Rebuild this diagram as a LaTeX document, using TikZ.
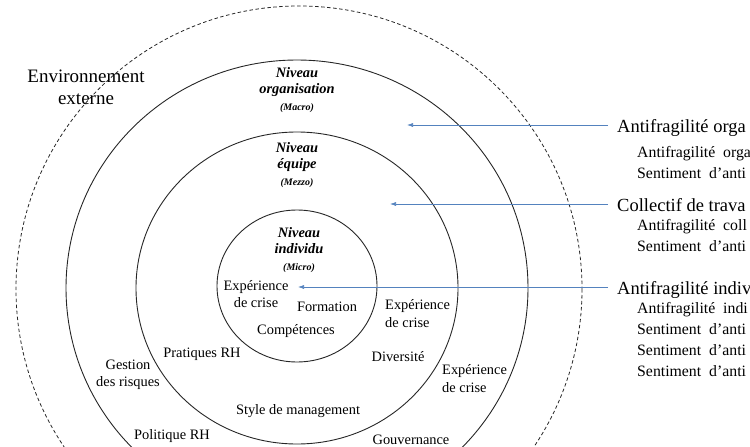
\documentclass[tikz,border=0pt]{standalone}
\usepackage{fontspec}
\setmainfont{Liberation Serif}
\usetikzlibrary{arrows.meta, positioning}
\definecolor{arrowblue}{RGB}{84,130,190}

\begin{document}
\begin{tikzpicture}[
    x=1pt, y=-1pt,
    ring/.style={draw=black!85, line width=0.9pt},
    envring/.style={draw=black!85, line width=0.8pt, dash pattern=on 3.5pt off 2.5pt},
    lvl/.style={align=center, inner sep=0pt, font=\fontsize{14.4}{16.5}\selectfont\bfseries\itshape},
    item/.style={align=center, inner sep=0pt, font=\fontsize{14.4}{17.5}\selectfont},
    main/.style={anchor=west, inner xsep=9pt, inner ysep=0pt, text height=15pt, text depth=0pt,
      font=\fontsize{18.5}{22}\selectfont},
    sub/.style={anchor=north west, align=left, inner sep=0pt, font=\fontsize{15.8}{21}\selectfont},
    arrow/.style={-{Latex[length=6pt, width=4pt]}, draw=arrowblue, line width=0.6pt}
]
\useasboundingbox (0,0) rectangle (750,447);

% Rings
\draw[envring] (299,289) circle [radius=283];
\draw[ring] (297,288) ellipse [x radius=231, y radius=228];
\draw[ring] (297,288) ellipse [x radius=161, y radius=156];
\draw[ring] (297,286) ellipse [x radius=80, y radius=76];

% Levels
\node[item, font=\fontsize{19}{22}\selectfont] (env) at (86,87) {Environnement\\externe};
\node[lvl] (macro) at (297,90) {Niveau\\organisation\\{\fontsize{10}{12}\selectfont (Macro)}};
\node[lvl] (mezzo) at (297,165) {Niveau\\équipe\\{\fontsize{10}{12}\selectfont (Mezzo)}};
\node[lvl] (micro) at (299,250) {Niveau\\individu\\{\fontsize{10}{12}\selectfont (Micro)}};

% Factors
\node[item] (crise1) at (256,294) {Expérience\\de crise};
\node[item] (formation) at (327,307) {Formation};
\node[item] (competences) at (296,331.5) {Compétences};
\node[item] (pratiques) at (202,354.5) {Pratiques RH};
\node[item] (gestion) at (128,375) {Gestion\\des risques};
\node[item] (style) at (298,411.5) {Style de management};
\node[item] (politique) at (172,436.5) {Politique RH};
\node[item, align=left, anchor=west] (crise2) at (385,313.5) {Expérience\\de crise};
\node[item] (diversite) at (398,357) {Diversité};
\node[item, align=left, anchor=west] (crise3) at (442,378.5) {Expérience\\de crise};
\node[item] (gouvernance) at (411,440) {Gouvernance};

% Outcomes
\node[main] (orgLbl) at (608,125) {Antifragilité orga};
\node[sub] (orgSub) at (637,146.4) {Antifragilité\ \ orga\\Sentiment\ \ d’anti};
\node[main] (teamLbl) at (608,204) {Collectif de trava};
\node[sub] (teamSub) at (637,219.4) {Antifragilité\ \ coll\\Sentiment\ \ d’anti};
\node[main] (indLbl) at (608,287) {Antifragilité indiv};
\node[sub] (indSub) at (637,302.4) {Antifragilité\ \ indi\\Sentiment\ \ d’anti\\Sentiment\ \ d’anti\\Sentiment\ \ d’anti};

% Arrows
\coordinate (orgTip) at (407,125);
\coordinate (teamTip) at (390,204);
\coordinate (indTip) at (298,287);
\draw[arrow] (orgLbl.west) -- (orgTip);
\draw[arrow] (teamLbl.west) -- (teamTip);
\draw[arrow] (indLbl.west) -- (indTip);

\end{tikzpicture}
\end{document}
